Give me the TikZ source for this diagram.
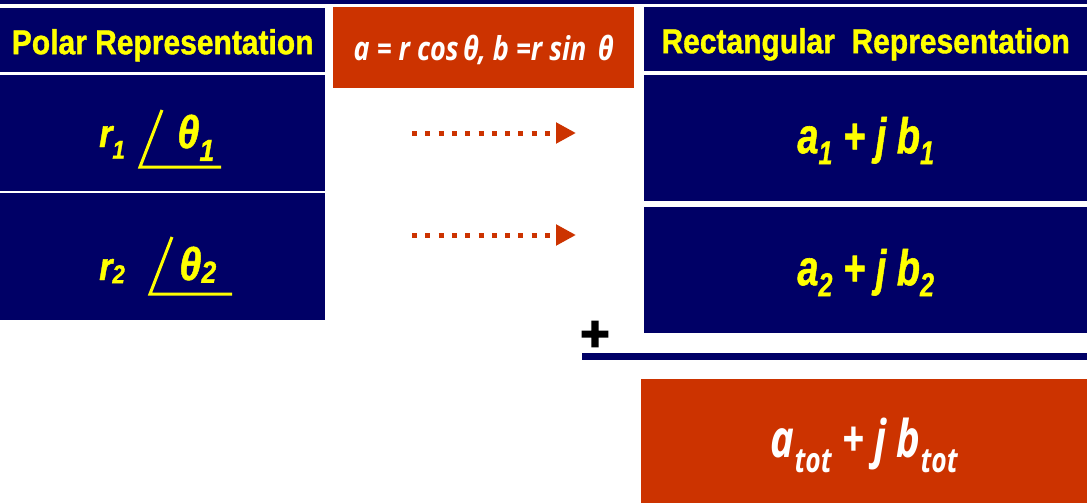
\documentclass[tikz,border=0pt]{standalone}
\usepackage{fontspec}
\setmainfont{Liberation Sans}[FakeBold=1.2]
\newfontfamily\altfont{Open Sans}
\newfontfamily\plusfont{Liberation Sans}[FakeBold=3]
\usetikzlibrary{arrows.meta,positioning}
\definecolor{navy}{RGB}{0,0,102}
\definecolor{rust}{RGB}{204,51,0}
\definecolor{gold}{RGB}{255,255,0}
\newcommand{\lowsub}[2][0.22em]{\raisebox{-#1}{\scalebox{0.66}{#2}}}
\newcommand{\vs}[2]{\scalebox{1}[#1]{#2}}
% text whose baseline sits #1 below the middle of its box
\newcommand{\drop}[2]{\smash{\raisebox{-#1}{#2}}}
\begin{document}
\begin{tikzpicture}[x=1pt,y=-1pt,
	panel/.style={fill=#1, inner sep=0pt, anchor=north west},
	headtext/.style={text=gold, font=\fontsize{30}{30}\selectfont\bfseries},
	rectext/.style={text=gold, font=\fontsize{38}{38}\selectfont\bfseries\itshape},
	polartext/.style={text=gold, inner sep=0pt, anchor=base west, font=\bfseries\itshape},
	whitetext/.style={text=white, font=\altfont\bfseries\itshape},
	flow/.style={rust, line width=5pt, dash pattern=on 5pt off 8.3pt, -{Triangle[length=20pt,width=20pt]}},
	anglemark/.style={gold, line width=3pt}]
	\useasboundingbox (0,0) rectangle (1087,503);
	\fill[navy] (0,0) rectangle (1087,4);
	% polar side
	\node[panel=navy, minimum width=325pt, minimum height=64pt, headtext] (polarhead) at (0,8) {\drop{14pt}{\vs{1.15}{Polar Representation}}};
	\node[panel=navy, minimum width=325pt, minimum height=116pt] (polarone) at (0,75) {};
	\node[panel=navy, minimum width=325pt, minimum height=127pt] (polartwo) at (0,193) {};
	\node[polartext, font=\fontsize{34}{34}\selectfont\bfseries\itshape] (r1) at (99,147) {\vs{1.15}{r\lowsub[0.3em]{1}}};
	\node[polartext, font=\fontsize{40}{40}\selectfont\bfseries\itshape] (th1) at (177,148) {\vs{1.15}{θ\lowsub[0.28em]{1}}};
	\draw[anglemark] (162,110) -- (140,167) -- (221,167);
	\node[polartext, font=\fontsize{34}{34}\selectfont\bfseries\itshape] (r2) at (99,280) {\vs{1.15}{r\lowsub[0.08em]{2}}};
	\node[polartext, font=\fontsize{40}{40}\selectfont\bfseries\itshape] (th2) at (179,280) {\vs{1.15}{θ\lowsub[0.06em]{2}}};
	\draw[anglemark] (172,237) -- (150,294) -- (232,294);
	% conversion
	\node[panel=rust, minimum width=301pt, minimum height=81pt, whitetext, font=\fontsize{27}{27}\selectfont\altfont\bfseries\itshape] (rule) at (333,7) {\drop{12.5pt}{\vs{1.22}{a = r cos\,θ, b =r sin\, θ}}};
	\coordinate (from1) at (412,133);
	\coordinate (to1) at (576,133);
	\coordinate (from2) at (412,235);
	\coordinate (to2) at (576,235);
	\draw[flow] (from1) -- (to1);
	\draw[flow] (from2) -- (to2);
	% rectangular side
	\node[panel=navy, minimum width=443pt, minimum height=64pt, headtext] (recthead) at (644,7) {\drop{14pt}{\vs{1.15}{Rectangular\ \ Representation}}};
	\node[panel=navy, minimum width=443pt, minimum height=126pt, rectext] (rectone) at (644,75) {\drop{15pt}{\vs{1.32}{a\lowsub{1} + j b\lowsub{1}}}};
	\node[panel=navy, minimum width=443pt, minimum height=126pt, rectext] (recttwo) at (644,207) {\drop{15pt}{\vs{1.32}{a\lowsub{2} + j b\lowsub{2}}}};
	\node[font=\fontsize{50}{50}\selectfont\plusfont\bfseries, inner sep=0pt] (plus) at (595,336) {+};
	\fill[navy] (582,353) rectangle (1087,360);
	\node[panel=rust, minimum width=446pt, minimum height=124pt, whitetext, font=\fontsize{40}{40}\selectfont\altfont\bfseries\itshape] (total) at (641,379) {\drop{16pt}{\vs{1.3}{a\lowsub[0.3em]{tot} + j b\lowsub[0.3em]{tot}}}};
\end{tikzpicture}
\end{document}
